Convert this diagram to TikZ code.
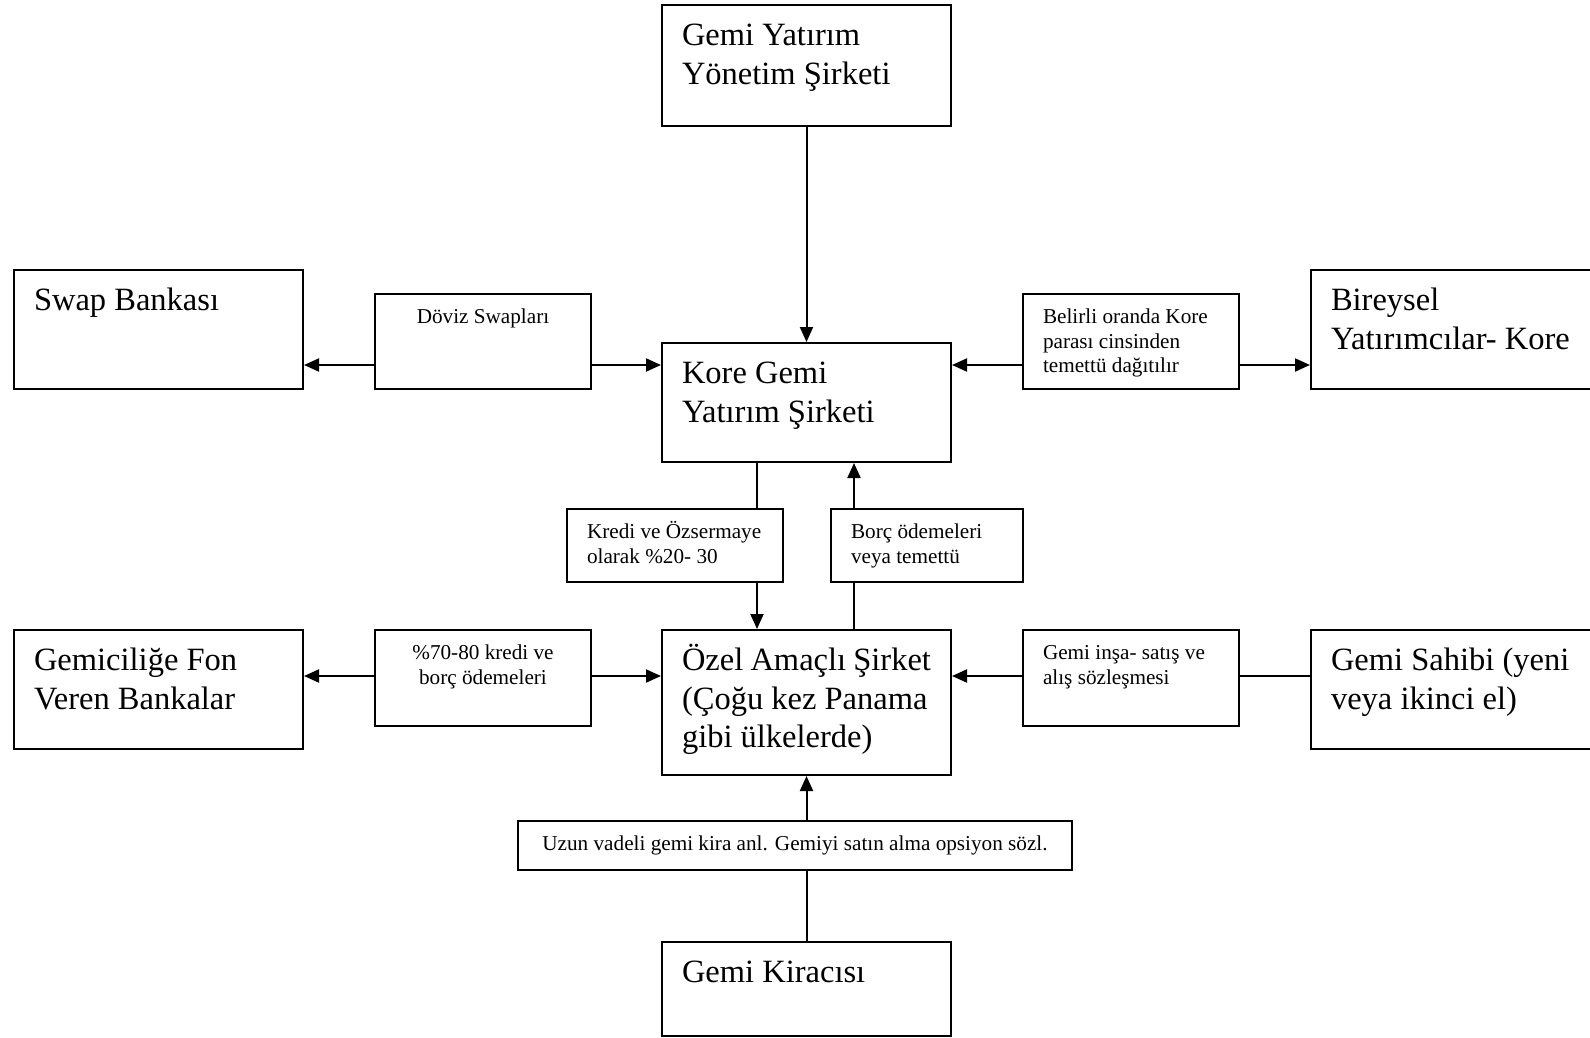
\documentclass[tikz,border=0pt]{standalone}
\usepackage{fontspec}
\setmainfont{Liberation Serif}
\usetikzlibrary{arrows.meta}

\newcommand{\bigfont}{\fontsize{32.5}{38.5}\selectfont}
\newcommand{\smallfont}{\fontsize{21.2}{24.8}\selectfont}
% text kept at the top of a box of fixed size
\newcommand{\boxtext}[3]{\begin{minipage}[t][#2][t]{#1}\raggedright\strut#3\end{minipage}}

\tikzset{
	box/.style={draw=black, line width=2pt, anchor=north west, inner xsep=20pt, inner ysep=14pt},
	bigbox/.style={box, font=\bigfont},
	smallbox/.style={box, inner ysep=12pt, font=\smallfont},
	arr/.style={line width=2pt, -{Triangle[length=15pt,width=13pt]}},
	lin/.style={line width=2pt}
}

\begin{document}
\begin{tikzpicture}[x=1pt, y=-1pt]
	\fill[white] (0,0) rectangle (1590,1037);
	\clip (0,0) rectangle (1590,1037);

	% main boxes
	\node[bigbox] (gyy)      at (661,4)    {\boxtext{249pt}{93pt}{Gemi Yatırım\\Yönetim Şirketi}};
	\node[bigbox] (kore)     at (661,342)  {\boxtext{249pt}{91pt}{Kore Gemi\\Yatırım Şirketi}};
	\node[bigbox] (ozel)     at (661,629)  {\boxtext{249pt}{117pt}{Özel Amaçlı Şirket\\(Çoğu kez Panama\\gibi ülkelerde)}};
	\node[bigbox] (kiraci)   at (661,941)  {\boxtext{249pt}{66pt}{Gemi Kiracısı}};
	\node[bigbox] (swap)     at (13,269)   {\boxtext{249pt}{91pt}{Swap Bankası}};
	\node[bigbox] (fon)      at (13,629)   {\boxtext{249pt}{91pt}{Gemiciliğe Fon\\Veren Bankalar}};
	\node[bigbox] (bireysel) at (1310,269) {\boxtext{260pt}{91pt}{Bireysel\\Yatırımcılar- Kore}};
	\node[bigbox] (sahibi)   at (1310,629) {\boxtext{260pt}{91pt}{Gemi Sahibi (yeni\\veya ikinci el)}};

	% label boxes
	\node[smallbox] (doviz)   at (374,293)  {\boxtext{176pt}{71pt}{\centering Döviz Swapları}};
	\node[smallbox] (belirli) at (1022,293) {\boxtext{176pt}{71pt}{Belirli oranda Kore\\parası cinsinden\\temettü dağıtılır}};
	\node[smallbox] (kredi)   at (566,508)  {\boxtext{176pt}{49pt}{Kredi ve Özsermaye\\olarak \%20- 30}};
	\node[smallbox] (borc)    at (830,508)  {\boxtext{152pt}{49pt}{Borç ödemeleri\\veya temettü}};
	\node[smallbox] (yuzde)   at (374,629)  {\boxtext{176pt}{72pt}{\centering \%70-80 kredi ve\\borç ödemeleri}};
	\node[smallbox] (insa)    at (1022,629) {\boxtext{176pt}{72pt}{Gemi inşa- satış ve\\alış sözleşmesi}};
	\node[smallbox] (uzun)    at (517,820)  {\boxtext{514pt}{25pt}{\centering Uzun vadeli gemi kira anl. Gemiyi satın alma opsiyon sözl.}};

	\coordinate (r1) at (0,365);
	\coordinate (r2) at (0,676);
	\coordinate (c1) at (757,0);
	\coordinate (c2) at (854,0);

	% connectors
	\draw[arr] (gyy.south) -- (kore.north);
	\draw[arr] (doviz.west |- r1) -- (swap.east |- r1);
	\draw[arr] (doviz.east |- r1) -- (kore.west |- r1);
	\draw[arr] (belirli.west |- r1) -- (kore.east |- r1);
	\draw[arr] (belirli.east |- r1) -- (bireysel.west |- r1);
	\draw[lin] (kore.south -| c1) -- (kredi.north -| c1);
	\draw[arr] (kredi.south -| c1) -- (ozel.north -| c1);
	\draw[lin] (ozel.north -| c2) -- (borc.south -| c2);
	\draw[arr] (borc.north -| c2) -- (kore.south -| c2);
	\draw[arr] (yuzde.west |- r2) -- (fon.east |- r2);
	\draw[arr] (yuzde.east |- r2) -- (ozel.west |- r2);
	\draw[arr] (insa.west |- r2) -- (ozel.east |- r2);
	\draw[lin] (insa.east |- r2) -- (sahibi.west |- r2);
	\draw[arr] (uzun.north -| ozel.south) -- (ozel.south);
	\draw[lin] (kiraci.north) -- (uzun.south -| kiraci.north);
\end{tikzpicture}
\end{document}
